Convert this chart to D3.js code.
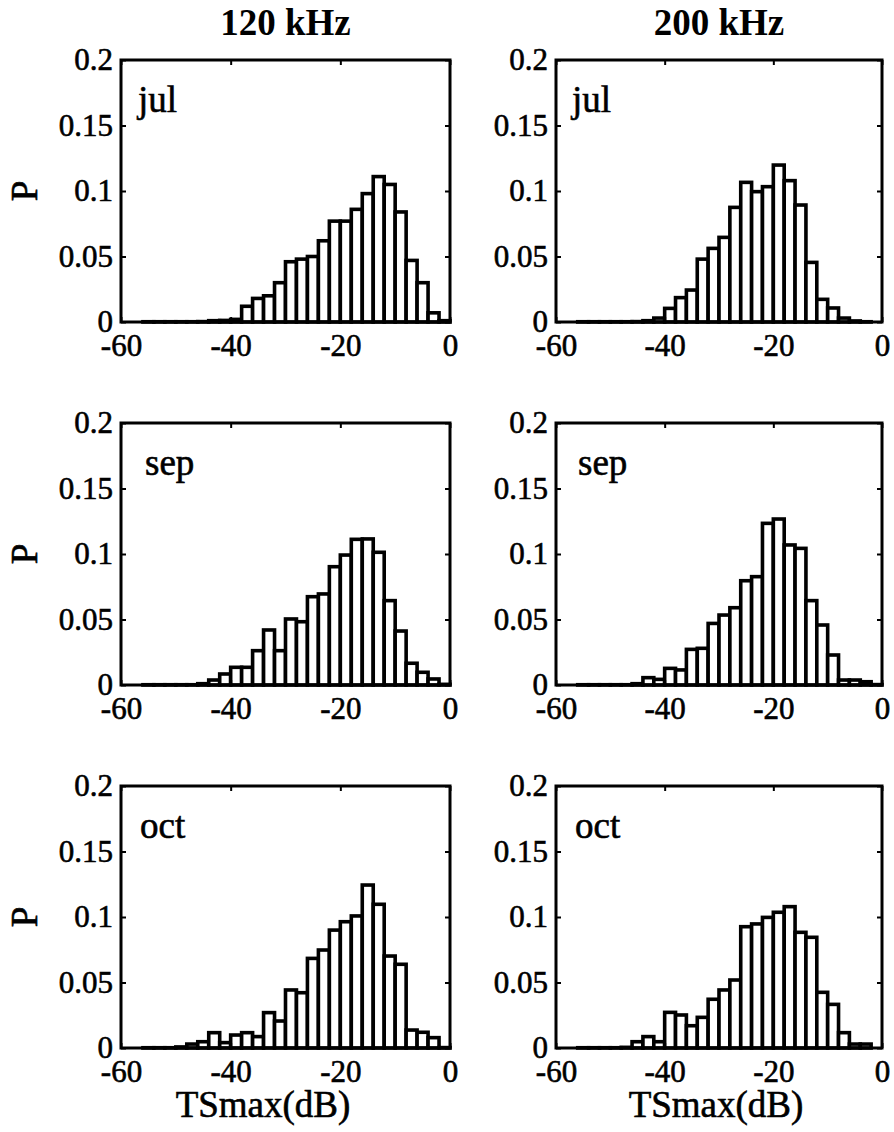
<!DOCTYPE html>
<html>
<head>
<meta charset="utf-8">
<script src="https://cdn.jsdelivr.net/npm/d3@7"></script>
<style>
  body { margin: 0; background: #fff; }
  svg { display: block; }
  text { font-family: "Liberation Serif", "Times New Roman", serif; fill: #000; }
  text.heavy { stroke: #000; stroke-width: 0.6px; }
</style>
</head>
<body>
<svg id="chart" width="894" height="1132"></svg>
<script>
// Histogram bins: 2 dB wide, left edges from -60 to -2 dB
const binStart = d3.range(-60, 0, 2);
const binWidth = 2;

const frequencies = ["120 kHz", "200 kHz"];
const months = ["jul", "sep", "oct"];
const yTicks = [0, 0.05, 0.1, 0.15, 0.2];
const xTicks = [-60, -40, -20, 0];
const xLabel = "TSmax(dB)";
const yLabel = "P";

// Relative frequency P per bin, one array per month and frequency
const jul120 = [0, 0, 0.0002, 0.0002, 0.0002, 0.0002, 0.0002, 0.0003, 0.001, 0.0012,
                0.002, 0.012, 0.018, 0.020, 0.030, 0.046, 0.048, 0.050, 0.062, 0.077,
                0.077, 0.086, 0.098, 0.111, 0.105, 0.084, 0.047, 0.030, 0.007, 0.001];
const jul200 = [0, 0, 0.0002, 0.0002, 0.0002, 0.0002, 0.0002, 0.0003, 0.001, 0.003,
                0.0104, 0.0186, 0.0244, 0.048, 0.0562, 0.0646, 0.0875, 0.1066, 0.0995, 0.1033,
                0.1198, 0.1079, 0.0893, 0.0455, 0.0173, 0.0107, 0.003, 0.0008, 0.0002, 0];
const sep120 = [0, 0, 0.0002, 0.0002, 0.0002, 0.0002, 0.0002, 0.001, 0.0038, 0.0084,
                0.0135, 0.0135, 0.0262, 0.042, 0.0262, 0.0504, 0.0483, 0.0674, 0.0695, 0.0903,
                0.0992, 0.1112, 0.1115, 0.1013, 0.0644, 0.0412, 0.0166, 0.0097, 0.0046, 0.0005];
const sep200 = [0, 0, 0.0002, 0.0002, 0.0002, 0.0002, 0.0002, 0.001, 0.0056, 0.0043,
                0.0127, 0.0115, 0.0272, 0.028, 0.047, 0.0534, 0.059, 0.0796, 0.0827, 0.1234,
                0.1267, 0.1069, 0.1043, 0.0644, 0.0458, 0.0229, 0.0038, 0.0038, 0.0025, 0.0003];
const oct120 = [0, 0, 0.0002, 0.0002, 0.0002, 0.0008, 0.003, 0.0048, 0.0117, 0.0041,
                0.0099, 0.0117, 0.0087, 0.027, 0.0206, 0.0443, 0.0422, 0.0684, 0.0748, 0.09,
                0.0964, 0.1008, 0.1244, 0.1097, 0.0702, 0.0639, 0.0137, 0.012, 0.0079, 0.0003];
const oct200 = [0, 0, 0.0002, 0.0002, 0.0002, 0.0002, 0.0005, 0.0048, 0.0087, 0.0048,
                0.0272, 0.0252, 0.017, 0.0234, 0.0372, 0.0443, 0.0519, 0.0926, 0.0947, 0.0997,
                0.1036, 0.1079, 0.0883, 0.0845, 0.0425, 0.0333, 0.0117, 0.003, 0.003, 0];

const panelData = [[jul120, jul200], [sep120, sep200], [oct120, oct200]];

// Layout of the 3 x 2 grid of axes
const colX = [[121, 450], [556, 882]];
const rowTop = [60, 423, 786];
const plotH = 262;
const monthOffset = [[17, 16], [24, 22], [19, 19]];
const xLabelCenter = [263, 716];

const SERIF = '"Liberation Serif", "Times New Roman", serif';
const FONT_TICK = 31, FONT_LABEL = 37, FONT_MONTH = 37;
const LINE_W = 3, BAR_W = 3.6, TICK_LEN = 5;

const svg = d3.select("#chart");

function drawPanel(r, c) {
  const values = panelData[r][c];
  const [x0, x1] = colX[c];
  const top = rowTop[r], bottom = top + plotH;
  const x = d3.scaleLinear().domain([-60, 0]).range([x0, x1]);
  const y = d3.scaleLinear().domain([0, 0.2]).range([bottom, top]);
  const g = svg.append("g");

  // bars (white fill, heavy black outline)
  const bins = binStart.map((s, i) => ({ s, v: values[i] })).filter(d => d.v > 0);
  g.append("g").selectAll("rect").data(bins).join("rect")
    .attr("x", d => x(d.s))
    .attr("width", d => x(d.s + binWidth) - x(d.s))
    .attr("y", d => y(d.v))
    .attr("height", d => y(0) - y(d.v))
    .attr("fill", "#fff")
    .attr("stroke", "#000")
    .attr("stroke-width", BAR_W)
    .attr("stroke-linejoin", "miter");

  // axes: ticks point inward on all four sides
  const fmt = d => String(d);
  const left = g.append("g").attr("transform", `translate(${x0},0)`)
    .call(d3.axisLeft(y).tickValues(yTicks).tickFormat(fmt).tickSize(-TICK_LEN).tickSizeOuter(0).tickPadding(8));
  const right = g.append("g").attr("transform", `translate(${x1},0)`)
    .call(d3.axisRight(y).tickValues(yTicks).tickFormat("").tickSize(-TICK_LEN).tickSizeOuter(0));
  const bottomAx = g.append("g").attr("transform", `translate(0,${bottom})`)
    .call(d3.axisBottom(x).tickValues(xTicks).tickFormat(fmt).tickSize(-TICK_LEN).tickSizeOuter(0).tickPadding(12));
  const topAx = g.append("g").attr("transform", `translate(0,${top})`)
    .call(d3.axisTop(x).tickValues(xTicks).tickFormat("").tickSize(-TICK_LEN).tickSizeOuter(0));

  [left, right, bottomAx, topAx].forEach(a => {
    a.attr("font-family", null).attr("font-size", null);
    a.select(".domain").remove();
    a.selectAll(".tick line").attr("stroke", "#000").attr("stroke-width", 2);
    a.selectAll(".tick text").classed("heavy", true)
      .style("font-family", SERIF).style("font-size", FONT_TICK + "px").attr("fill", "#000");
  });

  // axes box
  g.append("rect")
    .attr("x", x0).attr("y", top)
    .attr("width", x1 - x0).attr("height", plotH)
    .attr("fill", "none").attr("stroke", "#000").attr("stroke-width", LINE_W);

  // month label
  g.append("text").classed("heavy", true)
    .attr("x", x0 + monthOffset[r][c]).attr("y", top + 52)
    .style("font-size", FONT_MONTH + "px")
    .text(months[r]);

  if (c === 0) {
    g.append("text").classed("heavy", true)
      .attr("transform", `translate(37,${(top + bottom) / 2}) rotate(-90)`)
      .attr("text-anchor", "middle")
      .style("font-size", FONT_LABEL + "px")
      .text(yLabel);
  }
  if (r === 0) {
    g.append("text")
      .attr("x", (x0 + x1) / 2).attr("y", 35)
      .attr("text-anchor", "middle")
      .style("font-size", FONT_LABEL + "px").style("font-weight", "bold")
      .text(frequencies[c]);
  }
  if (r === 2) {
    g.append("text").classed("heavy", true)
      .attr("x", xLabelCenter[c]).attr("y", 1117)
      .attr("text-anchor", "middle")
      .style("font-size", FONT_LABEL + "px")
      .text(xLabel);
  }
}

for (let r = 0; r < 3; r++) for (let c = 0; c < 2; c++) drawPanel(r, c);
</script>
</body>
</html>
